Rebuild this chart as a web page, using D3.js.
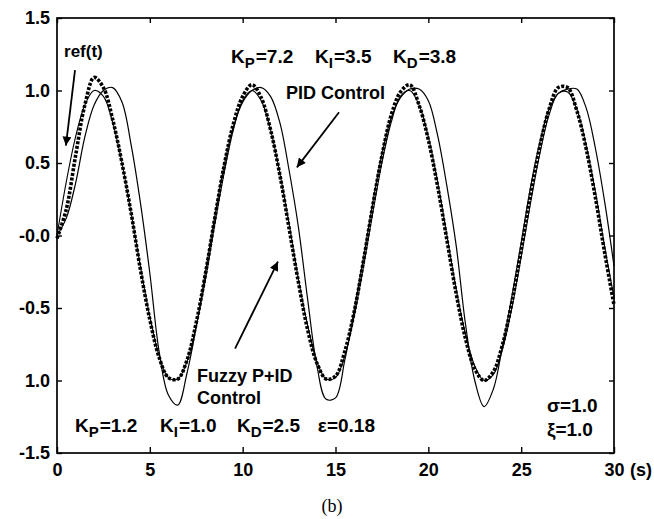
<!DOCTYPE html>
<html lang="en">
<head>
    <meta charset="UTF-8">
    <title>PID vs Fuzzy P+ID</title>
    <script src="https://d3js.org/d3.v7.min.js"></script>
    <style>
        body { margin: 0; background: #fff; }
        svg text { font-family: "Liberation Sans", Arial, sans-serif; font-weight: bold; fill: #000; }
    </style>
</head>
<body>
<svg width="654" height="519"></svg>
<script>
    // time axis, 0.5 s steps
    const time = d3.range(0, 30.01, 0.5);

    // values
    const refValues = [0.00, 0.37, 0.68, 0.90, 1.00, 0.96, 0.78, 0.50, 0.15, -0.22, -0.56, -0.83, -0.98, -0.99, -0.87, -0.62,
        -0.30, 0.08, 0.43, 0.73, 0.93, 1.00, 0.93, 0.73, 0.43, 0.08, -0.30, -0.62, -0.87, -0.99, -0.98, -0.83,
        -0.56, -0.22, 0.15, 0.50, 0.78, 0.96, 1.00, 0.90, 0.68, 0.37, 0.00, -0.37, -0.68, -0.90, -1.00, -0.96,
        -0.78, -0.50, -0.15, 0.22, 0.56, 0.83, 0.98, 0.99, 0.87, 0.62, 0.30, -0.08, -0.43];
    const pidValues = [0.00, 0.12, 0.36, 0.68, 0.90, 1.00, 1.02, 0.92, 0.62, 0.22, -0.26, -0.80, -1.10, -1.17, -0.95, -0.63,
        -0.25, 0.13, 0.48, 0.75, 0.92, 1.00, 1.02, 0.96, 0.78, 0.45, 0.06, -0.44, -0.90, -1.13, -1.12, -0.86,
        -0.52, -0.16, 0.22, 0.56, 0.81, 0.95, 1.01, 1.01, 0.93, 0.69, 0.34, -0.07, -0.61, -1.00, -1.18, -1.06,
        -0.76, -0.42, -0.05, 0.33, 0.64, 0.87, 0.98, 1.01, 1.01, 0.88, 0.60, 0.23, -0.21];
    const fuzzyValues = [-0.02, 0.18, 0.55, 0.90, 1.09, 1.02, 0.80, 0.50, 0.15, -0.24, -0.58, -0.84, -0.98, -0.99, -0.86, -0.60,
        -0.26, 0.12, 0.48, 0.77, 0.96, 1.04, 0.95, 0.73, 0.42, 0.05, -0.32, -0.65, -0.88, -0.99, -0.97, -0.80,
        -0.53, -0.18, 0.20, 0.55, 0.83, 0.99, 1.04, 0.90, 0.66, 0.34, -0.03, -0.40, -0.71, -0.92, -1.00, -0.94,
        -0.75, -0.46, -0.10, 0.28, 0.61, 0.87, 1.02, 1.02, 0.86, 0.60, 0.26, -0.12, -0.48];

    const xTicks = [0, 5, 10, 15, 20, 25, 30];
    const xTickLabels = ["0", "5", "10", "15", "20", "25", "30"];
    const yTicks = [1.5, 1.0, 0.5, 0, -0.5, -1.0, -1.5];
    const yTickLabels = ["1.5", "1.0", "0.5", "-0.0", "-0.5", "1.0", "-1.5"];

    const svg = d3.select('svg');
    const margin = {left: 57, top: 18, right: 40, bottom: 66};
    const W = 654 - margin.left - margin.right;
    const H = 519 - margin.top - margin.bottom;

    const x = d3.scaleLinear().domain([0, 30]).range([margin.left, margin.left + W]);
    const y = d3.scaleLinear().domain([-1.5, 1.5]).range([margin.top + H, margin.top]);

    // frame with inward ticks
    const frame = svg.append('g').attr('stroke', '#000').attr('fill', 'none');
    frame.append('rect').attr('x', x(0)).attr('y', y(1.5)).attr('width', W).attr('height', H)
        .attr('stroke-width', 1.7);

    const bottomAxis = svg.append('g').attr('transform', `translate(0,${y(-1.5)})`)
        .call(d3.axisBottom(x).tickValues(xTicks).tickSize(-6).tickFormat((d, i) => xTickLabels[i]));
    const topAxis = svg.append('g').attr('transform', `translate(0,${y(1.5)})`)
        .call(d3.axisTop(x).tickValues(xTicks).tickSize(-5).tickFormat(''));
    const leftAxis = svg.append('g').attr('transform', `translate(${x(0)},0)`)
        .call(d3.axisLeft(y).tickValues(yTicks).tickSize(-5).tickFormat((d, i) => yTickLabels[i]));
    const rightAxis = svg.append('g').attr('transform', `translate(${x(30)},0)`)
        .call(d3.axisRight(y).tickValues(yTicks).tickSize(-5).tickFormat(''));

    [bottomAxis, topAxis, leftAxis, rightAxis].forEach(a => {
        a.select('.domain').remove();
        a.selectAll('.tick line').attr('stroke', '#000').attr('stroke-width', 1.4);
    });
    bottomAxis.selectAll('.tick text').attr('font-size', 18).attr('dy', null).attr('y', 23)
        .attr('font-family', '"Liberation Sans", Arial, sans-serif');
    leftAxis.selectAll('.tick text').attr('font-size', 18).attr('x', -7)
        .attr('font-family', '"Liberation Sans", Arial, sans-serif');

    svg.append('text').attr('x', x(30) + 16).attr('y', y(-1.5) + 23).attr('font-size', 18).text('(s)');

    // curves
    const line = vals => d3.line()
        .x((d, i) => x(time[i]))
        .y(d => y(d))
        .curve(d3.curveCatmullRom)(vals);

    svg.append('path').attr('d', line(refValues))
        .attr('fill', 'none').attr('stroke', '#000').attr('stroke-width', 1.1);
    svg.append('path').attr('d', line(pidValues))
        .attr('fill', 'none').attr('stroke', '#000').attr('stroke-width', 1.2);
    svg.append('path').attr('d', line(fuzzyValues))
        .attr('fill', 'none').attr('stroke', '#000').attr('stroke-width', 3.6)
        .attr('stroke-dasharray', '3 1.6');

    // arrows
    svg.append('defs').append('marker')
        .attr('id', 'head').attr('viewBox', '0 0 10 10').attr('refX', 10).attr('refY', 5)
        .attr('markerWidth', 12).attr('markerHeight', 9).attr('markerUnits', 'userSpaceOnUse')
        .attr('orient', 'auto')
        .append('path').attr('d', 'M0,0L10,5L0,10Z').attr('fill', '#000');

    const arrows = [
        {from: [0.97, 1.14], to: [0.48, 0.62]},
        {from: [15.19, 0.85], to: [12.92, 0.47]},
        {from: [9.59, -0.78], to: [11.9, -0.18]}
    ];
    svg.selectAll('line.arrow').data(arrows).enter().append('line')
        .attr('class', 'arrow')
        .attr('x1', d => x(d.from[0])).attr('y1', d => y(d.from[1]))
        .attr('x2', d => x(d.to[0])).attr('y2', d => y(d.to[1]))
        .attr('stroke', '#000').attr('stroke-width', 1.8)
        .attr('marker-end', 'url(#head)');

    // annotations
    function note(t, v, str, size) {
        return svg.append('text').attr('x', x(t)).attr('y', y(v)).attr('font-size', size || 17).text(str);
    }
    function gain(t, v, sub, val) {
        const txt = svg.append('text').attr('x', x(t)).attr('y', y(v)).attr('font-size', 19);
        txt.append('tspan').text('K');
        txt.append('tspan').attr('font-size', 15).attr('dy', 5).text(sub);
        txt.append('tspan').attr('dy', -5).attr('dx', 1).text(val);
    }

    note(0.38, 1.23, 'ref(t)', 17);
    gain(9.37, 1.19, 'P', '=7.2');
    gain(13.9, 1.19, 'I', '=3.5');
    gain(18.1, 1.19, 'D', '=3.8');
    note(12.33, 0.94, 'PID Control', 18);
    note(7.54, -1.01, 'Fuzzy P+ID', 18);
    note(7.54, -1.162, 'Control', 18);
    gain(0.97, -1.355, 'P', '=1.2');
    gain(5.55, -1.355, 'I', '=1.0');
    gain(9.69, -1.355, 'D', '=2.5');
    note(14.05, -1.355, 'ε=0.18', 19);
    note(26.39, -1.217, 'σ=1.0', 19);
    note(26.39, -1.383, 'ξ=1.0', 19);

    svg.append('text').attr('x', 332).attr('y', 512).attr('text-anchor', 'middle')
        .attr('font-size', 18)
        .style('font-family', '"Liberation Serif", "Times New Roman", serif').style('font-weight', 'normal')
        .text('(b)');
</script>
</body>
</html>
